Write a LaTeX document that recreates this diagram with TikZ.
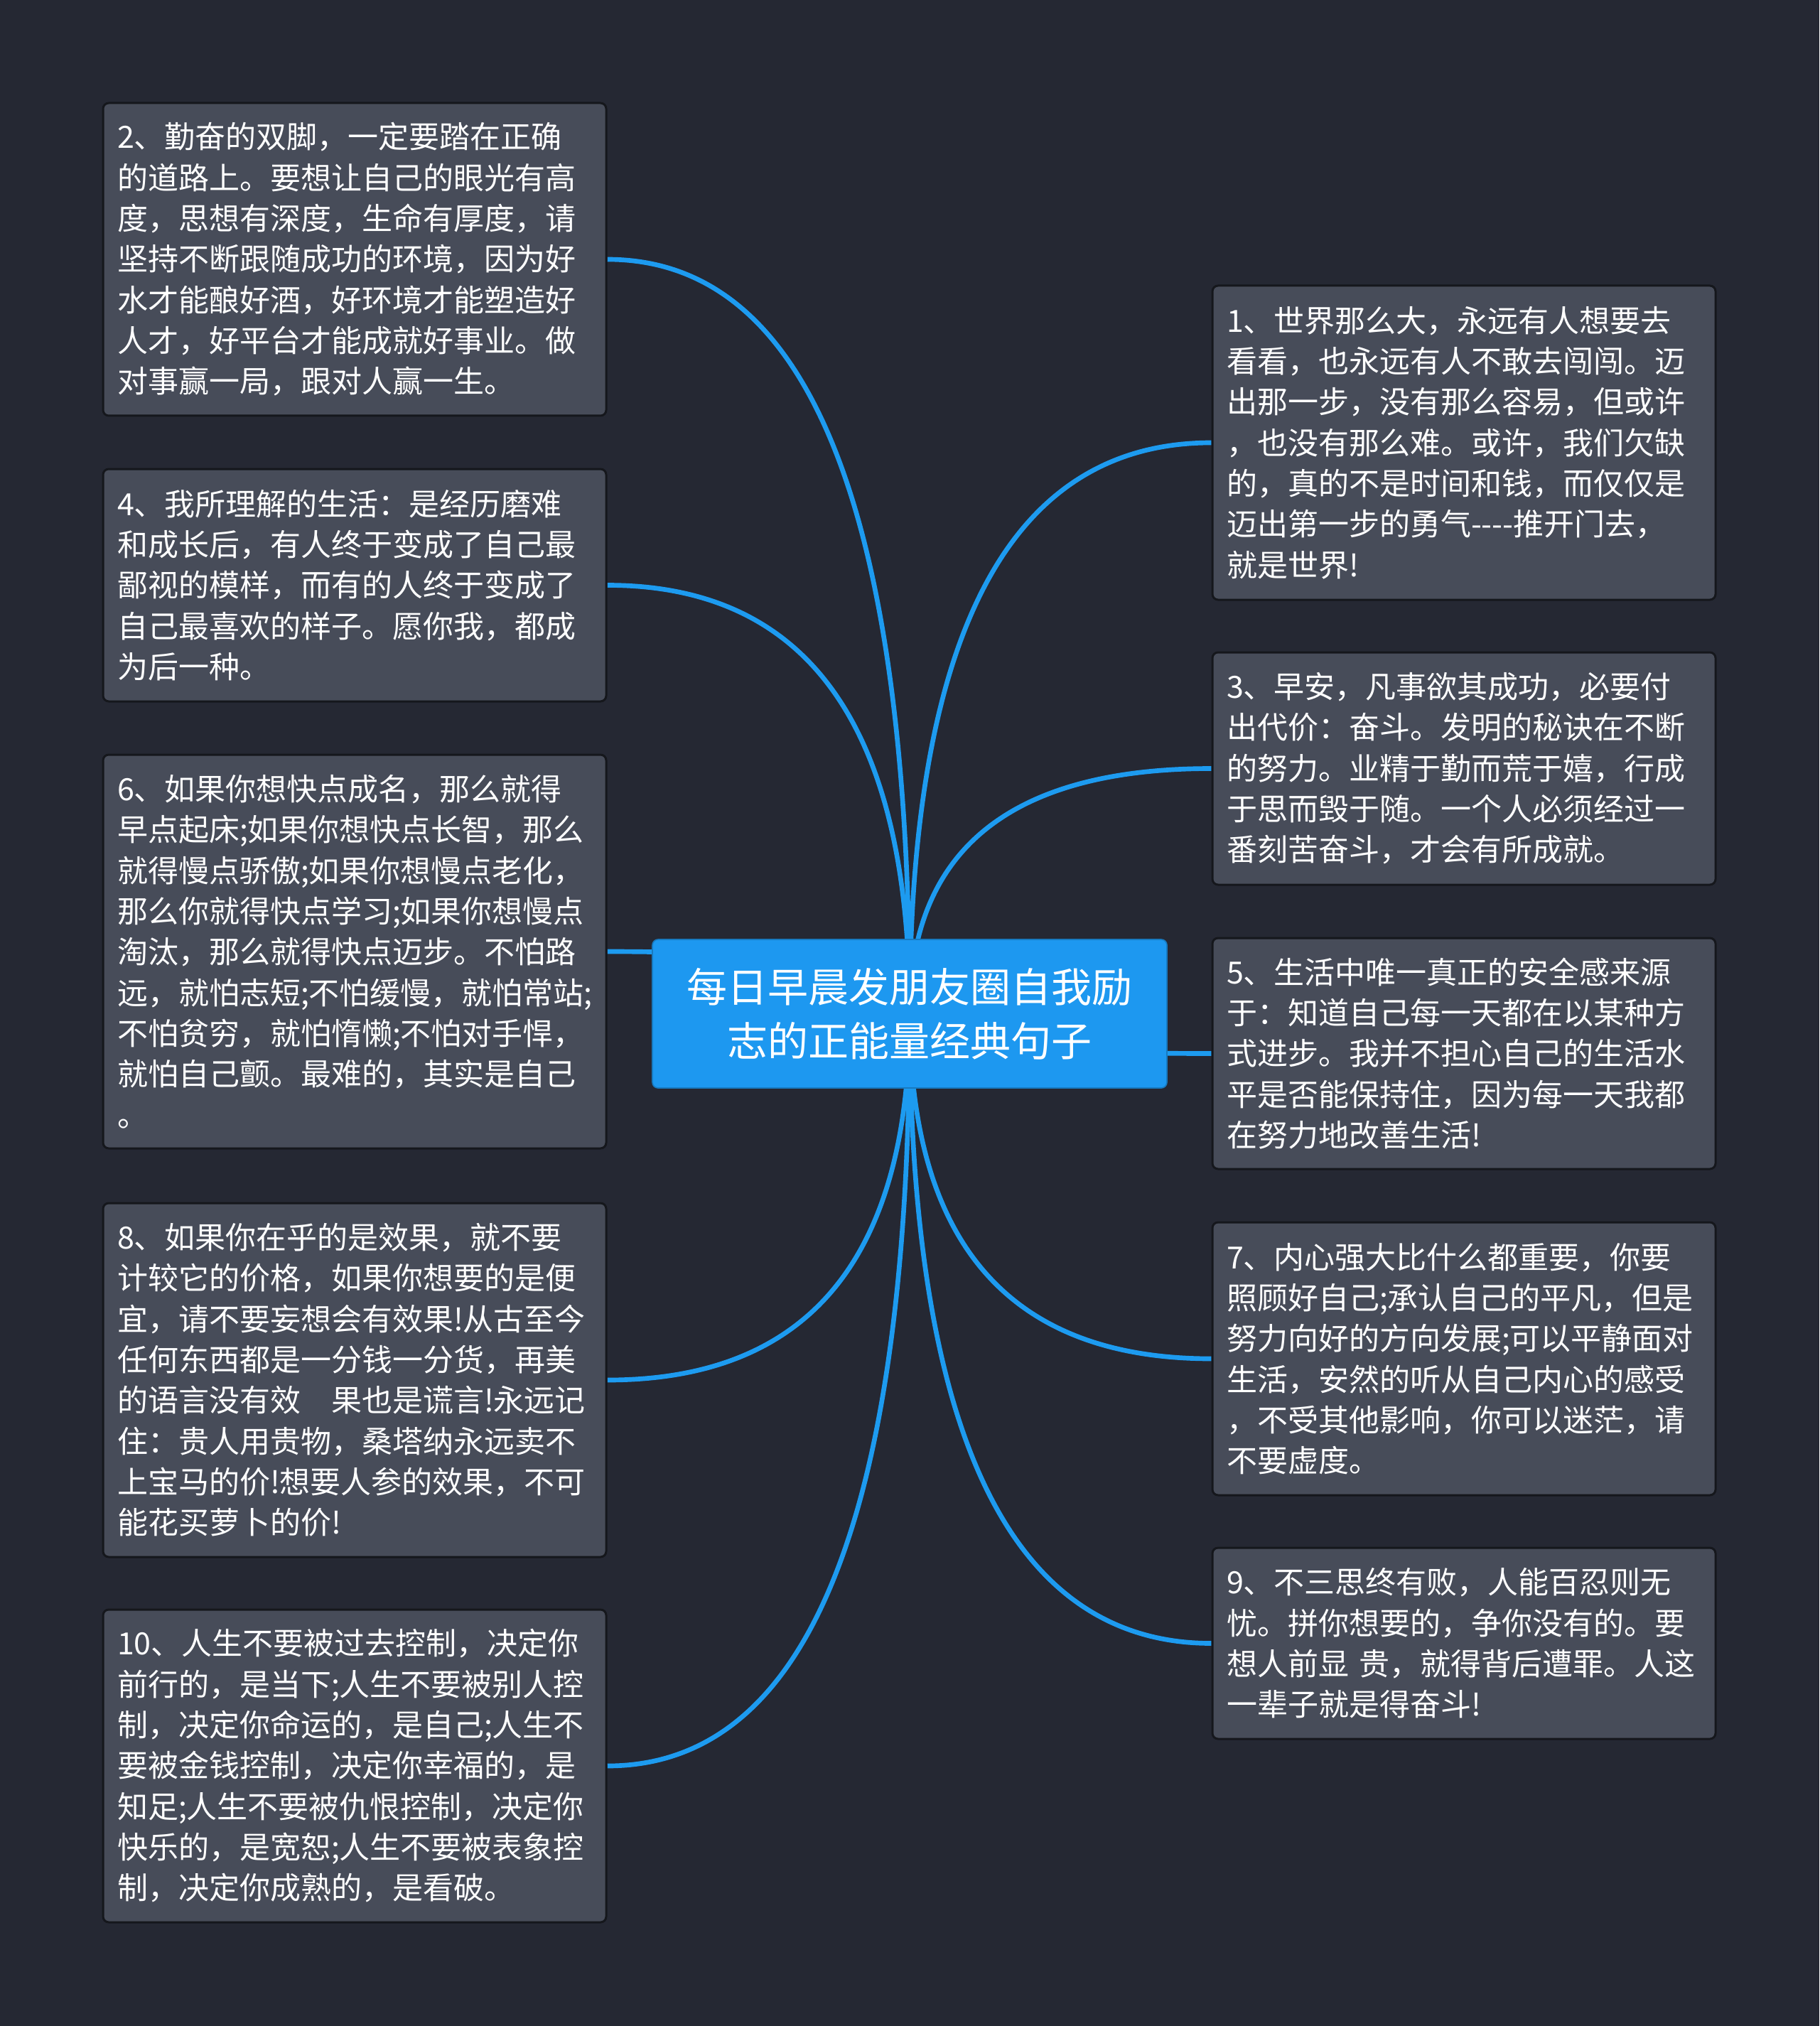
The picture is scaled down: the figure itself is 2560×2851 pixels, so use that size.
\documentclass[tikz,border=0pt]{standalone}
\usepackage{fontspec}
\setmainfont{Noto Sans CJK SC}
\newfontfamily\cjk{Noto Sans CJK SC}
\usetikzlibrary{calc}
\definecolor{bgc}{RGB}{37,40,51}
\definecolor{boxfill}{RGB}{71,76,89}
\definecolor{boxline}{RGB}{21,23,28}
\definecolor{linkc}{RGB}{29,155,240}
\definecolor{rootfill}{RGB}{29,152,240}
\pgfdeclarelayer{bglayer}
\pgfdeclarelayer{links}
\pgfsetlayers{bglayer,links,main}
\tikzset{
  leaf/.style={draw=boxline, line width=0.9pt, fill=boxfill, rounded corners=2.4pt,
    text=white, font=\cjk\fontsize{12.9}{17.2}\selectfont,
    text width=200.4pt, align=left, inner xsep=6pt, inner ysep=0pt, anchor=center},
  rootbox/.style={fill=rootfill, draw=rootfill!80!black, line width=0.5pt, rounded corners=2.4pt,
    text=white, font=\cjk\fontsize{17.1}{22.8}\selectfont, align=center,
    minimum width=217.2pt, minimum height=62.7pt, inner sep=0pt},
  conn/.style={draw=linkc, line width=2pt}
}
\newcommand\mmlink[2]{%
  \draw[conn] (#1.center) .. controls ($(#1.center)!0.667!(#1.center |- #2)$) and ($(#2)!0.667!(#1.center |- #2)$) .. (#2);}
\begin{document}
\begin{tikzpicture}[x=0.3pt,y=-0.3pt]
\begin{pgfonlayer}{bglayer}
\fill[bgc] (0,0) rectangle (2560,2851);
\end{pgfonlayer}
\useasboundingbox (0,0) rectangle (2560,2851);

\node[rootbox] (root) at (1280,1426.5) {每日早晨发朋友圈自我励\\志的正能量经典句子};

% left column
\node[leaf, minimum height=132pt] (b2) at (499,365) {2、勤奋的双脚，一定要踏在正确\\
的道路上。要想让自己的眼光有高\\
度，思想有深度，生命有厚度，请\\
坚持不断跟随成功的环境，因为好\\
水才能酿好酒，好环境才能塑造好\\
人才，好平台才能成就好事业。做\\
对事赢一局，跟对人赢一生。};

\node[leaf, minimum height=98.1pt] (b4) at (499,823.5) {4、我所理解的生活：是经历磨难\\
和成长后，有人终于变成了自己最\\
鄙视的模样，而有的人终于变成了\\
自己最喜欢的样子。愿你我，都成\\
为后一种。};

\node[leaf, minimum height=166.2pt] (b6) at (499,1339) {6、如果你想快点成名，那么就得\\
早点起床;如果你想快点长智，那么\\
就得慢点骄傲;如果你想慢点老化，\\
那么你就得快点学习;如果你想慢点\\
淘汰，那么就得快点迈步。不怕路\\
远，就怕志短;不怕缓慢，就怕常站;\\
不怕贫穷，就怕惰懒;不怕对手悍，\\
就怕自己颤。最难的，其实是自己\\
。};

\node[leaf, minimum height=149.4pt] (b8) at (499,1942) {8、如果你在乎的是效果，就不要\\
计较它的价格，如果你想要的是便\\
宜，请不要妄想会有效果!从古至今\\
任何东西都是一分钱一分货，再美\\
的语言没有效　果也是谎言!永远记\\
住：贵人用贵物，桑塔纳永远卖不\\
上宝马的价!想要人参的效果，不可\\
能花买萝卜的价!};

\node[leaf, minimum height=132pt] (b10) at (499,2485) {10、人生不要被过去控制，决定你\\
前行的，是当下;人生不要被别人控\\
制，决定你命运的，是自己;人生不\\
要被金钱控制，决定你幸福的，是\\
知足;人生不要被仇恨控制，决定你\\
快乐的，是宽恕;人生不要被表象控\\
制，决定你成熟的，是看破。};

% right column
\node[leaf, minimum height=132.6pt] (b1) at (2060,623) {1、世界那么大，永远有人想要去\\
看看，也永远有人不敢去闯闯。迈\\
出那一步，没有那么容易，但或许\\
，也没有那么难。或许，我们欠缺\\
的，真的不是时间和钱，而仅仅是\\
迈出第一步的勇气----推开门去，\\
就是世界!};

\node[leaf, minimum height=98.1pt] (b3) at (2060,1081.5) {3、早安，凡事欲其成功，必要付\\
出代价：奋斗。发明的秘诀在不断\\
的努力。业精于勤而荒于嬉，行成\\
于思而毁于随。一个人必须经过一\\
番刻苦奋斗，才会有所成就。};

\node[leaf, minimum height=97.5pt] (b5) at (2060,1482.5) {5、生活中唯一真正的安全感来源\\
于：知道自己每一天都在以某种方\\
式进步。我并不担心自己的生活水\\
平是否能保持住，因为每一天我都\\
在努力地改善生活!};

\node[leaf, minimum height=115.2pt] (b7) at (2060,1912) {7、内心强大比什么都重要，你要\\
照顾好自己;承认自己的平凡，但是\\
努力向好的方向发展;可以平静面对\\
生活，安然的听从自己内心的感受\\
，不受其他影响，你可以迷茫，请\\
不要虚度。};

\node[leaf, minimum height=80.7pt] (b9) at (2060,2312.5) {9、不三思终有败，人能百忍则无\\
忧。拼你想要的，争你没有的。要\\
想人前显 贵，就得背后遭罪。人这\\
一辈子就是得奋斗!};

\begin{pgfonlayer}{links}
\mmlink{root}{b2.east}
\mmlink{root}{b4.east}
\mmlink{root}{b6.east}
\mmlink{root}{b8.east}
\mmlink{root}{b10.east}
\mmlink{root}{b1.west}
\mmlink{root}{b3.west}
\mmlink{root}{b5.west}
\mmlink{root}{b7.west}
\mmlink{root}{b9.west}
\end{pgfonlayer}
\end{tikzpicture}
\end{document}
